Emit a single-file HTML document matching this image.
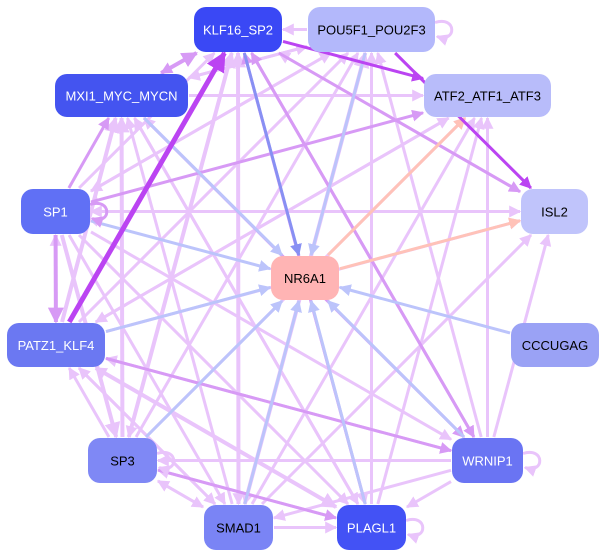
<!DOCTYPE html>
<html><head><meta charset="utf-8"><style>
html,body{margin:0;padding:0;background:#fff;}
svg{display:block;}
text{font-family:"Liberation Sans",sans-serif;font-size:13px;}
</style></head><body>
<svg id="s" width="605" height="557" viewBox="0 0 605 557" xmlns="http://www.w3.org/2000/svg">
<defs></defs>
<g id="e"></g><g id="n"></g>
</svg>
<script>
var N={
KLF:[194,7,88,45,'#3a48f5','KLF16_SP2','#fff'],
POU:[308,7,127,45,'#b3b8fb','POU5F1_POU2F3','#000'],
MXI:[55,74,133,43,'#4454f0','MXI1_MYC_MYCN','#fff'],
ATF:[424,74,127,43,'#b8bcfa','ATF2_ATF1_ATF3','#000'],
SP1:[21,189,69,45,'#6070f5','SP1','#fff'],
ISL:[521,189,67,45,'#c0c4fb','ISL2','#000'],
NR:[271,256,68,44,'#ffb4b4','NR6A1','#000'],
PAT:[7,323,98,44,'#6b78f2','PATZ1_KLF4','#fff'],
CCC:[511,323,88,44,'#9aa2f5','CCCUGAG','#000'],
SP3:[88,438,69,45,'#7f88f5','SP3','#000'],
WRN:[452,438,71,45,'#6a74f3','WRNIP1','#fff'],
SMA:[204,505,69,45,'#7a84f5','SMAD1','#000'],
PLA:[337,505,69,45,'#4352f5','PLAGL1','#fff']};
var L='#e9c4fb',M='#d79af5',B='#bcc4fb',P='#ffc2b8',D='#bb44f2',DB='#8890f3';
var E=[
['PLA','POU',L,3],['WRN','POU',L,3],['SMA','POU',L,4],['SP3','POU',L,3],['SP1','POU',L,3],['PAT','POU',L,3],['MXI','POU',L,3],['POU','KLF',L,3],['POU','MXI',L,3],
['PAT','MXI',L,4],['SP3','MXI',L,4],['SMA','MXI',L,3],['PLA','MXI',L,3],['WRN','MXI',L,3],['MXI','PLA',L,3],
['PAT','ATF',L,3],['SP3','ATF',L,3],['SMA','ATF',L,3],['PLA','ATF',L,3],['WRN','ATF',L,3],['MXI','ATF',L,3],
['SP1','ISL',L,3],['PAT','ISL',L,3],['SMA','ISL',L,3],['WRN','ISL',L,3],
['PAT','SP1',L,3],['SP1','SP3',L,4],['SP1','SMA',L,3],['SP1','PLA',L,3],['SP1','WRN',L,3],
['PAT','SMA',L,3],['PAT','PLA',L,4],['SP3','PAT',L,3],['WRN','PAT',L,3],['PLA','PAT',L,3],['SMA','PAT',L,3],
['SP3','SMA',L,3],['SMA','PLA',L,3],['WRN','SMA',L,3],['WRN','PLA',L,3],['PLA','SP3',L,3],['SMA','SP3',L,3],['WRN','SP3',L,3],
['KLF','SP3',L,3],['KLF','SMA',L,3],['POU','SMA',L,3],['POU','SP1',L,3],['ATF','PAT',L,3],['ISL','SP1',L,3],['ATF','SP1',L,2],['KLF','PLA',L,3],['CCC','SP1',L,2],
['SMA','KLF',L,4],['SP3','KLF',L,4],['SP1','KLF',L,3],['ISL','KLF',L,3],
['MXI','KLF',M,4],['PLA','KLF',M,3],['WRN','KLF',M,3],['KLF','MXI',M,3],['SP1','MXI',M,3],['MXI','WRN',M,3],['SP1','ATF',M,3],['SP1','PAT',M,4],['PAT','WRN',M,3],['SP3','PLA',M,3],['KLF','WRN',M,3],['KLF','ISL',M,3],
['MXI','NR',B,3],['SP1','NR',B,3],['PAT','NR',B,3],['SP3','NR',B,3],['SMA','NR',B,3],['PLA','NR',B,3],['WRN','NR',B,3],['CCC','NR',B,3],['POU','NR',B,3],['KLF','NR',DB,3],
['NR','ATF',P,3],['NR','ISL',P,3],
['PAT','KLF',D,5],['KLF','ATF',D,3],['POU','ISL',D,3]
];
var ns='http://www.w3.org/2000/svg',defs=document.querySelector('defs'),ge=document.getElementById('e'),gn=document.getElementById('n');
var mk={};
function marker(c){if(mk[c])return mk[c];var id='m'+Object.keys(mk).length;var m=document.createElementNS(ns,'marker');
m.setAttribute('id',id);m.setAttribute('viewBox','0 0 10 10');m.setAttribute('refX','9');m.setAttribute('refY','5');
m.setAttribute('markerWidth','4');m.setAttribute('markerHeight','4');m.setAttribute('orient','auto');m.setAttribute('markerUnits','strokeWidth');
var p=document.createElementNS(ns,'path');p.setAttribute('d','M0,0L10,5L0,10z');p.setAttribute('fill',c);m.appendChild(p);defs.appendChild(m);mk[c]=id;return id;}
function c(k){var n=N[k];return [n[0]+n[2]/2,n[1]+n[3]/2];}
function clip(k,dx,dy){var n=N[k];var hw=n[2]/2+1,hh=n[3]/2+1;return Math.min(Math.abs(dx)>0?hw/Math.abs(dx):1e9,Math.abs(dy)>0?hh/Math.abs(dy):1e9);}
E.forEach(function(e){var a=c(e[0]),b=c(e[1]);var dx=b[0]-a[0],dy=b[1]-a[1];
var t1=clip(e[0],dx,dy),t2=clip(e[1],dx,dy);
var l=document.createElementNS(ns,'line');
l.setAttribute('x1',a[0]+dx*t1);l.setAttribute('y1',a[1]+dy*t1);l.setAttribute('x2',b[0]-dx*t2);l.setAttribute('y2',b[1]-dy*t2);
l.setAttribute('stroke',e[2]);l.setAttribute('stroke-width',e[3]);l.setAttribute('marker-end','url(#'+marker(e[2])+')');ge.appendChild(l);});
[['POU',L],['SP1',M],['SP3',L],['WRN',L],['PLA',L]].forEach(function(s){var n=N[s[0]];var x=n[0]+n[2],y=n[1]+n[3]/2;
var p=document.createElementNS(ns,'path');p.setAttribute('d','M'+(x)+','+(y-7)+' C'+(x+22)+','+(y-14)+' '+(x+22)+','+(y+14)+' '+(x+2)+','+(y+7));
p.setAttribute('fill','none');p.setAttribute('stroke',s[1]);p.setAttribute('stroke-width',3);p.setAttribute('marker-end','url(#'+marker(s[1])+')');ge.appendChild(p);});
for(var k in N){var n=N[k];var r=document.createElementNS(ns,'rect');r.setAttribute('x',n[0]);r.setAttribute('y',n[1]);r.setAttribute('width',n[2]);r.setAttribute('height',n[3]);
r.setAttribute('rx',12);r.setAttribute('fill',n[4]);gn.appendChild(r);
var t=document.createElementNS(ns,'text');t.setAttribute('x',n[0]+n[2]/2);t.setAttribute('y',n[1]+n[3]/2+5);t.setAttribute('text-anchor','middle');t.setAttribute('fill',n[6]);t.textContent=n[5];gn.appendChild(t);}
</script>
</body></html>
